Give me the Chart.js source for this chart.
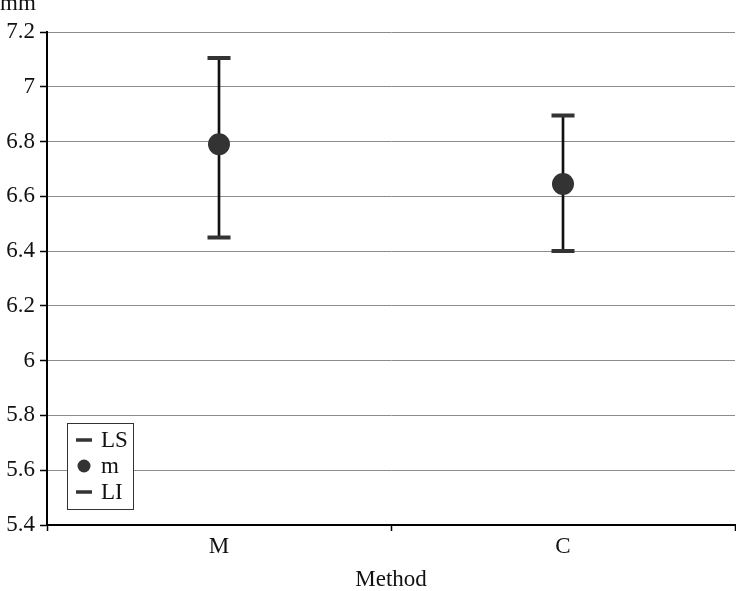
<!DOCTYPE html>
<html>
<head>
<meta charset="utf-8">
<script src="https://cdn.jsdelivr.net/npm/chart.js@4.4.1/dist/chart.umd.min.js"></script>
<style>
  body { margin: 0; background: #fff; }
  canvas { display: block; }
</style>
</head>
<body>
<canvas id="chart" width="736" height="591"></canvas>
<script>
const categories = ['M', 'C'];
const upperLimits = [7.105, 6.895];   // LS
const means = [6.79, 6.645];          // m
const lowerLimits = [6.45, 6.40];     // LI

const FONT = '"Liberation Serif", "Times New Roman", serif';
const MARK = '#333';

// error bar spans, drawn as a very thin floating bar
const spans = categories.map((_, i) => [lowerLimits[i], upperLimits[i]]);

// "mm" unit label and the boxed legend inside the plot
const overlay = {
  id: 'overlay',
  afterDraw(chart) {
    const ctx = chart.ctx;
    const a = chart.chartArea;
    ctx.save();
    ctx.font = '23px ' + FONT;
    ctx.fillStyle = '#111';
    ctx.textAlign = 'left';
    ctx.textBaseline = 'alphabetic';
    ctx.fillText('mm', 0, a.top - 22);

    const bx = a.left + 20, by = a.bottom - 102, bw = 66, bh = 86;
    ctx.fillStyle = '#fff';
    ctx.fillRect(bx, by, bw, bh);
    ctx.strokeStyle = '#333';
    ctx.lineWidth = 1;
    ctx.strokeRect(bx + 0.5, by + 0.5, bw, bh);

    const items = chart.data.datasets.filter(d => d.type === 'line');
    items.forEach((d, i) => {
      const cy = by + 17 + i * 26;
      const cx = bx + 17;
      if (d.pointStyle === 'line') {
        ctx.strokeStyle = d.borderColor;
        ctx.lineWidth = 3.5;
        ctx.beginPath();
        ctx.moveTo(cx - 8, cy);
        ctx.lineTo(cx + 8, cy);
        ctx.stroke();
      } else {
        ctx.fillStyle = d.backgroundColor;
        ctx.beginPath();
        ctx.arc(cx, cy, 6.5, 0, Math.PI * 2);
        ctx.fill();
      }
      ctx.fillStyle = '#111';
      ctx.font = '23px ' + FONT;
      ctx.textBaseline = 'alphabetic';
      ctx.fillText(d.label, bx + 34, cy + 7);
    });
    ctx.restore();
  }
};

new Chart(document.getElementById('chart'), {
  type: 'bar',
  data: {
    labels: categories,
    datasets: [
      {
        type: 'line', label: 'LS', data: upperLimits, showLine: false,
        pointStyle: 'line', pointRadius: 11.5, pointBorderWidth: 4,
        borderColor: MARK, backgroundColor: MARK, order: 1
      },
      {
        type: 'line', label: 'm', data: means, showLine: false,
        pointStyle: 'circle', pointRadius: 11, pointBorderWidth: 0,
        borderColor: MARK, backgroundColor: MARK, order: 1
      },
      {
        type: 'line', label: 'LI', data: lowerLimits, showLine: false,
        pointStyle: 'line', pointRadius: 11.5, pointBorderWidth: 4,
        borderColor: MARK, backgroundColor: MARK, order: 1
      },
      {
        label: '', data: spans, backgroundColor: '#111',
        barThickness: 2, order: 2
      }
    ]
  },
  options: {
    responsive: false,
    animation: false,
    layout: { autoPadding: false, padding: { top: 32, right: 1, bottom: 0, left: 0 } },
    plugins: {
      legend: { display: false },
      tooltip: { enabled: false }
    },
    scales: {
      x: {
        offset: true,
        grid: {
          display: true, offset: true, drawOnChartArea: false,
          drawTicks: true, tickLength: 6, tickColor: '#000', tickWidth: 1.5
        },
        border: { color: '#000', width: 2 },
        ticks: { color: '#111', padding: 2, font: { family: FONT, size: 23 } },
        title: {
          display: true, text: 'Method', color: '#111',
          font: { family: FONT, size: 23, lineHeight: 1 }, padding: { top: 0, bottom: 0 }
        },
        afterFit(scale) {
          scale.height = 66;
          scale.paddingLeft = 0;
          scale.paddingRight = 0;
        }
      },
      y: {
        min: 5.4,
        max: 7.2,
        ticks: {
          stepSize: 0.2, color: '#111', padding: 5,
          font: { family: FONT, size: 23 },
          callback: v => String(+v.toFixed(1))
        },
        grid: {
          color: '#8c8c8c', lineWidth: 1,
          drawTicks: true, tickLength: 7, tickColor: '#000', tickWidth: 1.5
        },
        border: { color: '#000', width: 2 },
        afterFit(scale) { scale.width = 47; }
      }
    }
  },
  plugins: [overlay]
});
</script>
</body>
</html>
